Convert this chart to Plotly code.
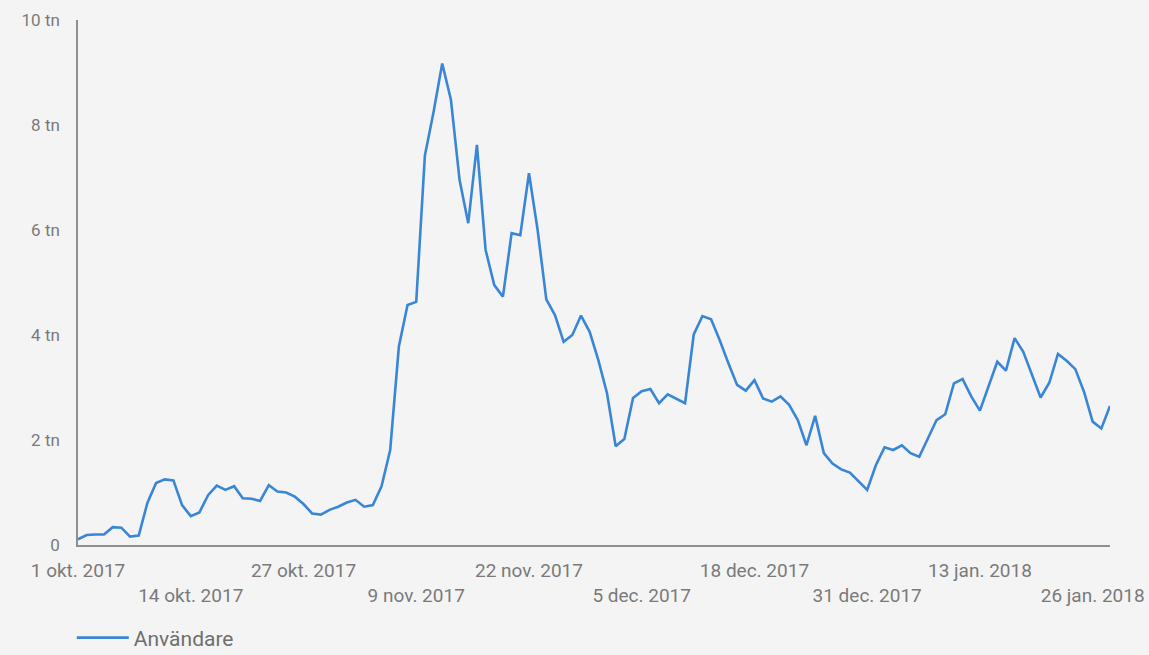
import pandas as pd
import plotly.graph_objects as go

# Daily users (in thousands, "tn" = tusen), 1 Oct 2017 - 28 Jan 2018
start_date = "2017-10-01"
anvandare_tn = [
    0.11, 0.19, 0.20, 0.20, 0.34, 0.33, 0.16, 0.18, 0.80, 1.18,
    1.25, 1.23, 0.76, 0.55, 0.62, 0.95, 1.13, 1.05, 1.12, 0.89,
    0.88, 0.84, 1.14, 1.02, 1.00, 0.92, 0.78, 0.60, 0.58, 0.67,
    0.73, 0.81, 0.86, 0.73, 0.76, 1.12, 1.81, 3.78, 4.57, 4.63,
    7.42, 8.25, 9.17, 8.48, 6.95, 6.13, 7.62, 5.62, 4.95, 4.73,
    5.94, 5.90, 7.08, 6.00, 4.68, 4.38, 3.87, 4.00, 4.37, 4.06,
    3.52, 2.89, 1.88, 2.02, 2.80, 2.93, 2.97, 2.70, 2.87, 2.78,
    2.70, 4.01, 4.36, 4.30, 3.90, 3.46, 3.05, 2.94, 3.14, 2.79,
    2.73, 2.83, 2.67, 2.38, 1.90, 2.46, 1.75, 1.55, 1.44, 1.38,
    1.22, 1.05, 1.52, 1.86, 1.81, 1.90, 1.75, 1.68, 2.03, 2.38,
    2.49, 3.08, 3.16, 2.83, 2.56, 3.02, 3.49, 3.32, 3.94, 3.68,
    3.24, 2.81, 3.09, 3.64, 3.51, 3.35, 2.92, 2.35, 2.22, 2.65,
]
dates = pd.date_range(start_date, periods=len(anvandare_tn), freq="D")

x_tick_row1_dates = ["2017-10-01", "2017-10-27", "2017-11-22", "2017-12-18", "2018-01-13"]
x_tick_row1_text = ["1 okt. 2017", "27 okt. 2017", "22 nov. 2017", "18 dec. 2017", "13 jan. 2018"]
x_tick_row2_dates = ["2017-10-14", "2017-11-09", "2017-12-05", "2017-12-31", "2018-01-26"]
x_tick_row2_text = ["14 okt. 2017", "9 nov. 2017", "5 dec. 2017", "31 dec. 2017", "26 jan. 2018"]
y_tick_vals = [0, 2, 4, 6, 8, 10]
y_tick_text = ["0", "2 tn", "4 tn", "6 tn", "8 tn", "10 tn"]

series_name = "Användare"

fig = go.Figure()
fig.add_trace(go.Scatter(
    x=dates, y=anvandare_tn, mode="lines", name=series_name,
    line=dict(color="#3a86d6", width=2.6),
))
# invisible copy on the second (staggered-label) x axis so that axis is drawn
fig.add_trace(go.Scatter(
    x=dates, y=anvandare_tn, mode="lines", xaxis="x2", showlegend=False,
    hoverinfo="skip", line=dict(color="rgba(0,0,0,0)", width=0),
))

xrange = [dates[0], dates[-1]]
font_col = "#7a7a7a"
xfont = dict(size=19, color=font_col)
fig.update_layout(
    width=1149, height=655,
    margin=dict(l=78, r=39, t=20, b=110, autoexpand=False),
    paper_bgcolor="#f4f4f4", plot_bgcolor="#f4f4f4",
    font=dict(family="Roboto", size=16, color=font_col),
    showlegend=True,
    legend=dict(orientation="h", x=-0.006, y=-0.138, xanchor="left", yanchor="top",
                itemwidth=52,
                font=dict(size=21, color="#6e6e6e"), bgcolor="rgba(0,0,0,0)"),
    xaxis=dict(
        type="date", range=xrange, showgrid=False, zeroline=False, automargin=False,
        showline=True, linecolor="#8f8f8f", linewidth=2,
        tickmode="array", tickvals=x_tick_row1_dates, ticktext=x_tick_row1_text,
        ticks="", ticklabelstandoff=7, tickfont=xfont,
    ),
    xaxis2=dict(
        type="date", range=xrange, overlaying="x", anchor="y", side="bottom",
        showgrid=False, zeroline=False, showline=False, automargin=False,
        tickmode="array", tickvals=x_tick_row2_dates, ticktext=x_tick_row2_text,
        ticks="", ticklabelstandoff=37, tickfont=xfont,
    ),
    yaxis=dict(
        range=[0, 10], showgrid=False, zeroline=False, automargin=False,
        showline=True, linecolor="#8f8f8f", linewidth=1.5,
        tickmode="array", tickvals=y_tick_vals, ticktext=y_tick_text,
        ticks="", ticklabelstandoff=13, tickfont=dict(size=17, color=font_col),
    ),
)

fig.write_html("out.html", config={"displayModeBar": False},
               post_script="document.body.style.margin='0';")
